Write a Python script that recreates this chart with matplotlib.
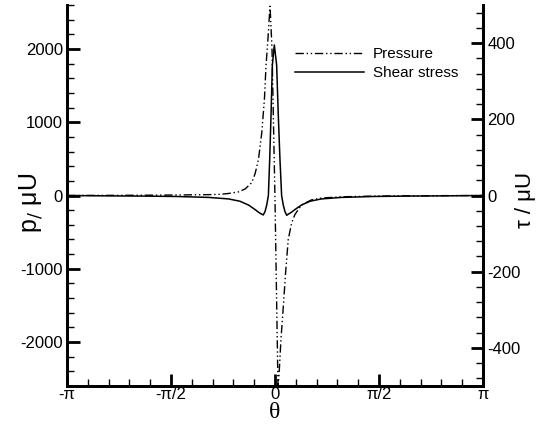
import matplotlib
matplotlib.use('Agg')
import matplotlib.pyplot as plt
import numpy as np
from matplotlib.ticker import MultipleLocator

plt.rcParams['font.family'] = ['Liberation Sans', 'DejaVu Sans']
plt.rcParams['axes.unicode_minus'] = False

# pressure p/(mu U) vs theta
theta_p = [-3.1416, -2.5, -2.0, -1.5, -1.0, -0.83, -0.7, -0.55, -0.45, -0.35, -0.30,
           -0.25, -0.20, -0.16, -0.136, -0.10, -0.085, -0.075, -0.06, -0.045, -0.03,
           -0.015, 0.0, 0.015, 0.03, 0.045, 0.06, 0.09, 0.126, 0.16, 0.20, 0.25,
           0.30, 0.40, 0.55, 0.70, 1.0, 1.5, 2.0, 2.5, 3.1416]
pres = [0, 2, 4, 7, 12, 16, 28, 50, 90, 177, 300,
        491, 855, 1310, 1764, 2224, 2450, 2583, 2300, 1990, 1310,
        628, -55, -900, -1750, -2590, -2465, -1965, -1510, -1055, -600, -380,
        -260, -130, -60, -35, -18, -8, -4, -2, 0]

# shear stress tau/(mu U) vs theta (right axis)
theta_s = [-3.1416, -2.5, -2.0, -1.5, -1.0, -0.7, -0.53, -0.40, -0.30, -0.24, -0.20,
           -0.177, -0.15, -0.125, -0.10, -0.08, -0.06, -0.04, -0.01, 0.025, 0.05,
           0.075, 0.10, 0.125, 0.15, 0.177, 0.20, 0.24, 0.30, 0.40, 0.53, 0.7,
           1.0, 1.5, 2.0, 2.5, 3.1416]
shear = [0, -1, -1.5, -2.5, -5, -9, -15, -25, -37, -45, -49,
         -51, -42, -25, 0, 95, 210, 342, 395, 342, 210,
         95, 0, -25, -42, -52, -49, -45, -37, -25, -15, -9,
         -5, -2.5, -1.5, -1, 0]

xticks = [-np.pi, -np.pi / 2, 0, np.pi / 2, np.pi]
xticklabels = ['-\u03c0', '-\u03c0/2', '0', '\u03c0/2', '\u03c0']

fig = plt.figure(figsize=(5.39, 4.28), dpi=100)
ax1 = fig.add_axes([0.1243, 0.0981, 0.7718, 0.8902])
ax2 = ax1.twinx()

l1, = ax1.plot(theta_p, pres, color='black', lw=1.0, dashes=(6, 2, 1, 2, 1, 2),
               label='Pressure')
l2, = ax2.plot(theta_s, shear, color='black', lw=1.1, label='Shear stress')

ax1.set_xlim(-np.pi, np.pi)
ax1.set_ylim(-2600, 2600)
ax2.set_ylim(-500, 500)

ax1.set_xticks(xticks)
ax1.set_xticklabels(xticklabels, fontsize=12)
ax1.xaxis.set_minor_locator(MultipleLocator(np.pi / 10))
ax1.set_yticks([-2000, -1000, 0, 1000, 2000])
ax1.yaxis.set_minor_locator(MultipleLocator(200))
ax2.set_yticks([-400, -200, 0, 200, 400])
ax2.yaxis.set_minor_locator(MultipleLocator(40))

for ax in (ax1, ax2):
    ax.spines['top'].set_visible(False)
    for s in ax.spines.values():
        s.set_linewidth(2)
    ax.tick_params(which='major', direction='in', length=9, width=2, labelsize=12, pad=3)
    ax.tick_params(which='minor', direction='in', length=5, width=1)
ax1.tick_params(axis='x', which='major', pad=1)
ax1.tick_params(axis='y', which='both', right=False)
ax2.tick_params(axis='y', which='both', left=False)
ax2.tick_params(axis='x', which='both', bottom=False, top=False)

# axis titles placed like the original
fig.text(275 / 539, 1 - 412 / 428, '\u03b8', fontsize=17, ha='center', va='center',
         family=['Liberation Serif', 'DejaVu Serif'])
fig.text(31 / 539, 1 - 203 / 428, 'p$_/$ \u03bcU', fontsize=18, rotation=90,
         ha='center', va='center')
fig.text(526 / 539, 1 - 200 / 428, '\u03c4 / \u03bcU', fontsize=16, rotation=90,
         ha='center', va='center')

ax2.legend([l1, l2], ['Pressure', 'Shear stress'], loc='upper left',
           bbox_to_anchor=(0.515, 0.925), frameon=False, fontsize=11,
           handlelength=4.5, handletextpad=0.6, labelspacing=0.3)

fig.savefig('out.png', dpi=100)
